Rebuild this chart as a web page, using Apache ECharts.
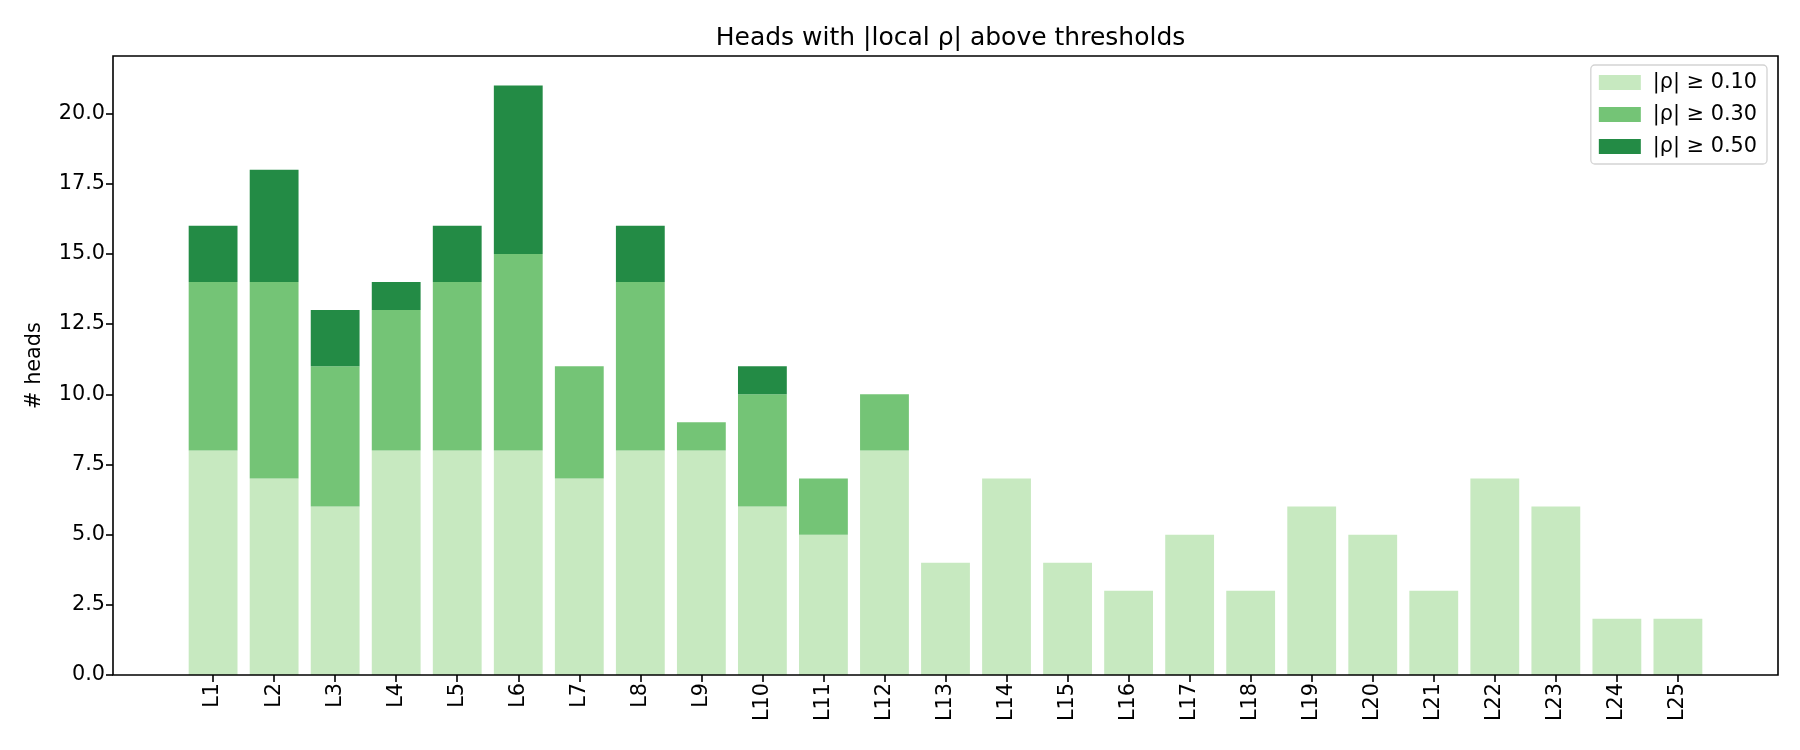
<!DOCTYPE html>
<html>
<head>
<meta charset="utf-8">
<script src="https://cdn.jsdelivr.net/npm/echarts@6/dist/echarts.min.js"></script>
<style>html,body{margin:0;padding:0;background:#fff}#chart{width:1800px;height:750px}</style>
</head>
<body>
<div id="chart"></div>
<script>
const categories = ['L1','L2','L3','L4','L5','L6','L7','L8','L9','L10','L11','L12','L13','L14','L15','L16','L17','L18','L19','L20','L21','L22','L23','L24','L25'];
const rho10 = [8,7,6,8,8,8,7,8,8,6,5,8,4,7,4,3,5,3,6,5,3,7,6,2,2];
const rho30 = [6,7,5,5,6,7,4,6,1,4,2,2,0,0,0,0,0,0,0,0,0,0,0,0,0];
const rho50 = [2,4,2,1,2,6,0,2,0,1,0,0,0,0,0,0,0,0,0,0,0,0,0,0,0];
const seriesNames = ['|ρ| ≥ 0.10','|ρ| ≥ 0.30','|ρ| ≥ 0.50'];
const colors = ['#c7e9c0','#74c476','#238b45'];
const yTicks = [0,2.5,5,7.5,10,12.5,15,17.5,20];

const FONT = 'DejaVu Sans';
const W = 1800;
const gridL = 113, gridR = 22, gridT = 56, gridB = 75;
const n = categories.length;
const pad = 0.05 * (n - 1 + 0.8);
const xMin = -0.4 - pad;
const xMax = (n - 1) + 0.4 + pad;
const totals = rho10.map((v, i) => v + rho30[i] + rho50[i]);
const yMax = Math.max(...totals) * 1.05;
const unit = (W - gridL - gridR) / (xMax - xMin);
const inset = (-0.5 - xMin) * unit;

const chart = echarts.init(document.getElementById('chart'));
const mk = (name, arr, color) => ({
  name, type: 'bar', stack: 'all', barWidth: '80%',
  xAxisIndex: 1, yAxisIndex: 1,
  itemStyle: { color },
  data: arr
});
const tickStyle = { color: '#000', width: 1.6 };
const labelFont = { fontFamily: FONT, fontSize: 20.8, color: '#000' };
chart.setOption({
  animation: false,
  title: {
    text: 'Heads with |local ρ| above thresholds',
    left: (gridL + W - gridR) / 2, textAlign: 'center', top: 21,
    textStyle: { fontFamily: FONT, fontSize: 25, fontWeight: 'normal', color: '#000' }
  },
  legend: {
    right: 33, top: 65, orient: 'vertical',
    itemWidth: 42, itemHeight: 15, itemGap: 11,
    padding: [7, 10, 7, 8],
    borderColor: '#d3d3d3', borderWidth: 1.3, borderRadius: 4,
    backgroundColor: 'rgba(255,255,255,0.8)',
    icon: 'rect',
    textStyle: Object.assign({ padding: [0, 0, 0, 7] }, labelFont),
    data: seriesNames
  },
  grid: [
    { left: gridL, right: gridR, top: gridT, bottom: gridB, show: true, borderColor: '#000', borderWidth: 1.6, backgroundColor: 'transparent', z: 5 },
    { left: gridL + inset, right: gridR + inset, top: gridT, bottom: gridB }
  ],
  xAxis: [
    { type: 'value', gridIndex: 0, min: xMin, max: xMax, show: false },
    {
      type: 'category', gridIndex: 1, data: categories, boundaryGap: true,
      axisLine: { show: false },
      splitLine: { show: false },
      axisTick: { show: true, alignWithLabel: true, interval: 0, length: 7, lineStyle: tickStyle },
      axisLabel: Object.assign({ rotate: 90, margin: 8, interval: 0 }, labelFont)
    }
  ],
  yAxis: [
    {
      type: 'value', gridIndex: 0, min: 0, max: yMax,
      name: '# heads', nameLocation: 'middle', nameGap: 68,
      nameTextStyle: labelFont,
      axisLine: { show: false, onZero: false },
      splitLine: { show: false },
      axisTick: { show: true, length: 7, lineStyle: tickStyle, customValues: yTicks },
      axisLabel: Object.assign({ margin: 8, customValues: yTicks, formatter: v => v.toFixed(1) }, labelFont)
    },
    { type: 'value', gridIndex: 1, min: 0, max: yMax, show: false }
  ],
  series: [
    mk(seriesNames[0], rho10, colors[0]),
    mk(seriesNames[1], rho30, colors[1]),
    mk(seriesNames[2], rho50, colors[2])
  ]
});
</script>
</body>
</html>
